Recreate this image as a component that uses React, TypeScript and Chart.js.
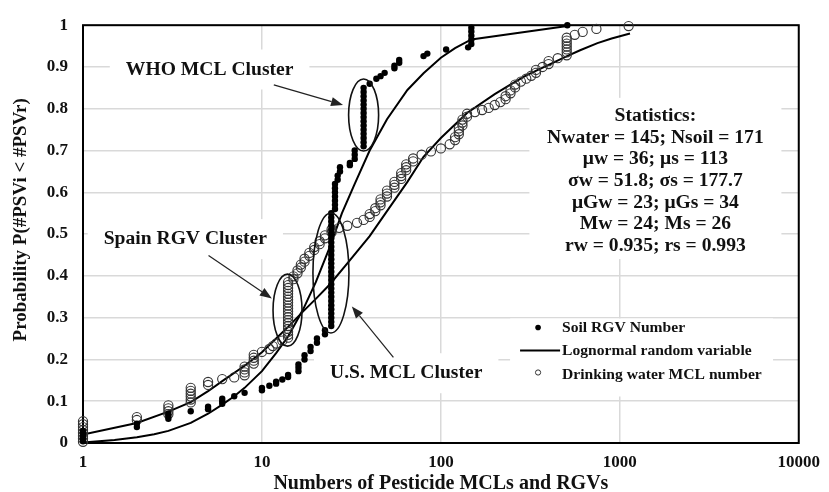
import React, { useEffect, useRef } from "react";
import { Chart, registerables } from "chart.js";

Chart.register(...registerables);

const FONT = '"Liberation Serif", "Times New Roman", serif';
const INK = "#111";

// ---- Soil RGV Number (filled dots) ----
const soilX = [
  1, 1, 1, 1, 1, 1,
  2, 2,
  3, 3, 3,
  4,
  5, 5,
  6, 6, 6,
  7, 8, 10, 10, 11, 12, 12, 13, 14, 14,
  16, 16, 16, 17.3, 17.3, 18.7, 18.7, 20.3, 20.3, 22.5, 22.5,
  24.4, 24.4, 24.4, 24.4, 24.4, 24.4, 24.4, 24.4, 24.4, 24.4,
  24.4, 24.4, 24.4, 24.4, 24.4, 24.4, 24.4, 24.4, 24.4, 24.4,
  24.4, 24.4, 24.4, 24.4, 24.4, 24.4, 24.4, 24.4,
  25.6, 25.6, 25.6, 25.6, 25.6, 25.6, 25.6,
  26.5, 26.5, 27.3, 27.3, 31, 31, 33, 33, 33,
  37, 37, 37, 37, 37, 37, 37, 37, 37, 37, 37, 37, 37, 37, 37,
  40, 43.6, 46, 48.5, 55, 55, 58.5, 58.5, 80, 84, 107, 142,
  148, 148, 148, 148, 148,
  509,
];
const soilP = [
  0.004, 0.009, 0.014, 0.019, 0.024, 0.029,
  0.038, 0.046,
  0.058, 0.064, 0.07,
  0.076,
  0.081, 0.087,
  0.094, 0.1, 0.106,
  0.112, 0.12, 0.126, 0.132, 0.137, 0.142, 0.147, 0.152, 0.158, 0.163,
  0.172, 0.18, 0.188, 0.2, 0.21, 0.22, 0.23, 0.24, 0.25, 0.26, 0.27,
  0.28, 0.29, 0.3, 0.31, 0.32, 0.33, 0.34, 0.35, 0.36, 0.37,
  0.38, 0.39, 0.4, 0.41, 0.42, 0.43, 0.44, 0.45, 0.46, 0.47,
  0.48, 0.49, 0.5, 0.51, 0.52, 0.53, 0.54, 0.55,
  0.56, 0.57, 0.58, 0.59, 0.6, 0.61, 0.62,
  0.63, 0.64, 0.65, 0.66, 0.665, 0.67, 0.68, 0.69, 0.7,
  0.71, 0.72, 0.73, 0.74, 0.75, 0.76, 0.77, 0.78, 0.79, 0.8, 0.81, 0.82, 0.83, 0.84, 0.85,
  0.86, 0.872, 0.878, 0.886, 0.897, 0.903, 0.91, 0.917, 0.926, 0.932, 0.942, 0.947,
  0.955, 0.965, 0.975, 0.985, 0.994,
  1.0,
];

// ---- Drinking water MCL number (open circles) ----
const waterX = [
  1, 1, 1, 1, 1, 1, 1, 1,
  2, 2,
  3, 3, 3, 3,
  4, 4, 4, 4, 4, 4,
  5, 5, 6, 7,
  8, 8, 8, 8,
  9, 9, 9, 9,
  10, 11, 11.5, 12, 13,
  14, 14, 14, 14, 14, 14, 14, 14, 14, 14,
  14, 14, 14, 14, 14, 14, 14, 14, 14, 14,
  15, 15, 15.8, 15.8, 16.5, 16.5, 17.3, 17.3, 18.4, 18.4,
  19.6, 19.6, 21, 21, 22.5, 22.5, 24.5, 24.5, 27, 30, 34, 37,
  40, 40, 43, 43, 46, 46, 46, 50, 50, 50, 55, 55, 55,
  60, 60, 60, 64, 64, 64, 70, 70, 78, 88, 100, 112,
  120, 120, 126, 126, 126, 132, 132, 132, 140, 140,
  155, 170, 185, 200, 215, 230, 230, 245, 245, 260, 260,
  280, 300, 320, 340, 340, 370, 400, 400, 450,
  505, 505, 505, 505, 505, 505, 505,
  560, 620, 740, 1120,
];
const waterP = [
  0.003, 0.01, 0.017, 0.024, 0.031, 0.038, 0.045, 0.052,
  0.055, 0.062,
  0.069, 0.076, 0.083, 0.09,
  0.097, 0.104, 0.111, 0.118, 0.125, 0.132,
  0.139, 0.146, 0.153, 0.157,
  0.162, 0.169, 0.176, 0.183,
  0.19, 0.197, 0.204, 0.211,
  0.218, 0.225, 0.232, 0.238, 0.245,
  0.252, 0.259, 0.266, 0.273, 0.28, 0.287, 0.294, 0.301, 0.308, 0.315,
  0.322, 0.329, 0.336, 0.343, 0.35, 0.357, 0.364, 0.371, 0.378, 0.385,
  0.392, 0.399, 0.406, 0.413, 0.42, 0.427, 0.434, 0.441, 0.448, 0.455,
  0.462, 0.469, 0.476, 0.483, 0.49, 0.497, 0.504, 0.511, 0.515, 0.52, 0.527, 0.534,
  0.541, 0.548, 0.555, 0.562, 0.569, 0.576, 0.583, 0.59, 0.597, 0.604, 0.611, 0.618, 0.625,
  0.632, 0.639, 0.646, 0.653, 0.66, 0.667, 0.674, 0.681, 0.69, 0.698, 0.705, 0.715,
  0.725, 0.732, 0.739, 0.746, 0.753, 0.76, 0.767, 0.774, 0.781, 0.788,
  0.792, 0.797, 0.802, 0.809, 0.816, 0.823, 0.83, 0.837, 0.844, 0.851, 0.858,
  0.865, 0.872, 0.879, 0.886, 0.893, 0.9, 0.907, 0.914, 0.921,
  0.928, 0.935, 0.942, 0.949, 0.956, 0.963, 0.97,
  0.977, 0.984, 0.991, 0.998,
];

// ---- Lognormal random variable curves ----
const soilCurveX = [1, 1.5, 2, 2.5, 3, 4, 5, 6, 7, 8, 10, 12, 14, 17, 20, 24, 28, 33, 40, 50, 65, 80, 100, 120, 148, 509];
const soilCurveP = [0.001, 0.007, 0.014, 0.021, 0.029, 0.048, 0.07, 0.092, 0.112, 0.132, 0.172, 0.215, 0.255, 0.32, 0.385, 0.47, 0.55, 0.62, 0.7, 0.775, 0.845, 0.885, 0.922, 0.945, 0.966, 0.998];
const waterCurveX = [1, 2, 3, 4, 5, 6, 8, 10, 12, 14, 17, 20, 24, 30, 40, 50, 65, 80, 100, 140, 200, 250, 300, 400, 500, 600, 750, 900, 1140];
const waterCurveP = [0.02, 0.048, 0.075, 0.098, 0.124, 0.148, 0.185, 0.217, 0.25, 0.278, 0.315, 0.345, 0.38, 0.43, 0.495, 0.555, 0.625, 0.685, 0.73, 0.79, 0.835, 0.86, 0.88, 0.905, 0.925, 0.94, 0.957, 0.968, 0.98];

// ---- Axes ----
const xTickValues = [1, 10, 100, 1000, 10000];
const yTickValues = [0, 0.1, 0.2, 0.3, 0.4, 0.5, 0.6, 0.7, 0.8, 0.9, 1];
const xTitle = "Numbers of Pesticide MCLs and RGVs";
const yTitle = "      Probability P(#PSVi < #PSVr)";

// ---- Text ----
const legendLabels = ["Soil RGV Number", "Lognormal random variable", "Drinking water MCL number"];
const statsLines = [
  "Statistics:",
  "Nwater = 145; Nsoil = 171",
  "\u03bcw = 36; \u03bcs = 113",
  "\u03c3w = 51.8; \u03c3s = 177.7",
  "\u03bcGw = 23; \u03bcGs = 34",
  "Mw = 24; Ms = 26",
  "rw = 0.935; rs = 0.993",
];
// annotation anchors in data coordinates
const clusterLabels = [
  { text: "WHO MCL Cluster", x: 5.1, p: 0.894 },
  { text: "Spain RGV Cluster", x: 3.73, p: 0.488 },
  { text: "U.S. MCL Cluster", x: 64, p: 0.167 },
];
const clusterEllipses = [
  { x: 37, p: 0.785, rx: 15, ry: 36 },
  { x: 13.9, p: 0.318, rx: 14.5, ry: 36 },
  { x: 24.3, p: 0.407, rx: 18, ry: 60 },
];
const clusterArrows = [
  { x1: 11.65, p1: 0.857, x2: 28.4, p2: 0.809 },
  { x1: 5.03, p1: 0.449, x2: 11.36, p2: 0.346 },
  { x1: 54.3, p1: 0.205, x2: 31.8, p2: 0.327 },
];
const statsAnchor = { x: 1581, p: 0.783 };
const legendAnchor = { x: 243.6, p: 0.298 };

const toPts = (xs: number[], ps: number[]) => xs.map((x, i) => ({ x, y: ps[i] }));

const overlayPlugin = {
  id: "overlay",
  beforeDatasetsDraw(chart: any) {
    const { ctx, chartArea: a } = chart;
    const xs = chart.scales.x;
    const ys = chart.scales.y;
    ctx.save();
    ctx.textAlign = "center";
    ctx.textBaseline = "middle";

    // cluster labels with white background
    ctx.font = `bold 19.6px ${FONT}`;
    for (const lb of clusterLabels) {
      const px = xs.getPixelForValue(lb.x);
      const py = ys.getPixelForValue(lb.p);
      const w = ctx.measureText(lb.text).width + 32;
      ctx.fillStyle = "#fff";
      ctx.fillRect(px - w / 2, py - 20, w, 40);
      ctx.fillStyle = INK;
      ctx.fillText(lb.text, px, py);
    }

    // statistics block
    const sx = xs.getPixelForValue(statsAnchor.x);
    const sy = ys.getPixelForValue(statsAnchor.p);
    const lh = 21.7;
    ctx.fillStyle = "#fff";
    ctx.fillRect(sx - 126, sy - 18, 252, (statsLines.length - 1) * lh + 31);
    ctx.fillStyle = INK;
    statsLines.forEach((t, i) => ctx.fillText(t, sx, sy + i * lh));

    // legend
    const lx = xs.getPixelForValue(legendAnchor.x);
    const ly = ys.getPixelForValue(legendAnchor.p);
    ctx.fillStyle = "#fff";
    ctx.fillRect(lx, ly, 263, 78);
    ctx.font = `bold 15.6px ${FONT}`;
    ctx.textAlign = "left";
    const rows = [ly + 9, ly + 32, ly + 56];
    const textX = lx + 52;
    const markX = lx + 28;
    ctx.fillStyle = "#000";
    ctx.beginPath();
    ctx.arc(markX, rows[0], 2.8, 0, Math.PI * 2);
    ctx.fill();
    ctx.strokeStyle = "#000";
    ctx.lineWidth = 2;
    ctx.beginPath();
    ctx.moveTo(lx + 10, rows[1]);
    ctx.lineTo(lx + 50, rows[1]);
    ctx.stroke();
    ctx.lineWidth = 1;
    ctx.strokeStyle = "#333";
    ctx.beginPath();
    ctx.arc(markX, rows[2] - 2, 2.6, 0, Math.PI * 2);
    ctx.stroke();
    ctx.fillStyle = INK;
    legendLabels.forEach((t, i) => ctx.fillText(t, textX, rows[i]));

    // frame
    ctx.strokeStyle = "#000";
    ctx.lineWidth = 2;
    ctx.strokeRect(a.left, a.top, a.right - a.left, a.bottom - a.top);
    ctx.restore();
  },
  afterDatasetsDraw(chart: any) {
    const { ctx } = chart;
    const xs = chart.scales.x;
    const ys = chart.scales.y;
    ctx.save();
    ctx.strokeStyle = "#111";
    ctx.lineWidth = 1.6;
    for (const e of clusterEllipses) {
      ctx.beginPath();
      ctx.ellipse(xs.getPixelForValue(e.x), ys.getPixelForValue(e.p), e.rx, e.ry, 0, 0, Math.PI * 2);
      ctx.stroke();
    }
    ctx.strokeStyle = "#222";
    ctx.fillStyle = "#222";
    ctx.lineWidth = 1.2;
    for (const ar of clusterArrows) {
      const x1 = xs.getPixelForValue(ar.x1);
      const y1 = ys.getPixelForValue(ar.p1);
      const x2 = xs.getPixelForValue(ar.x2);
      const y2 = ys.getPixelForValue(ar.p2);
      const ang = Math.atan2(y2 - y1, x2 - x1);
      const hl = 12;
      const hw = 4.5;
      const bx = x2 - hl * Math.cos(ang);
      const by = y2 - hl * Math.sin(ang);
      ctx.beginPath();
      ctx.moveTo(x1, y1);
      ctx.lineTo(bx, by);
      ctx.stroke();
      ctx.beginPath();
      ctx.moveTo(x2, y2);
      ctx.lineTo(bx + hw * Math.sin(ang), by - hw * Math.cos(ang));
      ctx.lineTo(bx - hw * Math.sin(ang), by + hw * Math.cos(ang));
      ctx.closePath();
      ctx.fill();
    }
    ctx.restore();
  },
};

export default function App() {
  const canvasRef = useRef<HTMLCanvasElement | null>(null);

  useEffect(() => {
    const canvas = canvasRef.current;
    if (!canvas) return;
    const tickFont = { family: FONT, size: 17, weight: "bold" as const };
    const chart = new Chart(canvas, {
      type: "scatter",
      data: {
        datasets: [
          {
            label: legendLabels[0],
            data: toPts(soilX, soilP),
            pointRadius: 3.2,
            pointBackgroundColor: "#000",
            pointBorderWidth: 0,
            showLine: false,
            clip: false,
            order: 0,
          },
          {
            label: legendLabels[2],
            data: toPts(waterX, waterP),
            pointRadius: 4.6,
            pointBackgroundColor: "rgba(0,0,0,0)",
            pointBorderColor: "#333",
            pointBorderWidth: 1.1,
            showLine: false,
            clip: false,
            order: 1,
          },
          {
            label: legendLabels[1],
            data: toPts(soilCurveX, soilCurveP),
            showLine: true,
            borderColor: "#000",
            borderWidth: 2,
            pointRadius: 0,
            tension: 0,
            order: 2,
          },
          {
            label: legendLabels[1],
            data: toPts(waterCurveX, waterCurveP),
            showLine: true,
            borderColor: "#000",
            borderWidth: 2,
            pointRadius: 0,
            tension: 0,
            order: 2,
          },
        ],
      },
      options: {
        responsive: false,
        animation: false,
        events: [],
        layout: { padding: { left: 0, right: 22, top: 24, bottom: 0 } },
        plugins: { legend: { display: false }, tooltip: { enabled: false }, title: { display: false } },
        scales: {
          x: {
            type: "logarithmic",
            min: 1,
            max: 10000,
            afterBuildTicks: (s: any) => {
              s.ticks = xTickValues.map((v) => ({ value: v }));
            },
            afterFit: (s: any) => {
              s.height = 49;
            },
            ticks: {
              callback: (v: any) => String(v),
              font: tickFont,
              color: INK,
              padding: 9,
              maxRotation: 0,
              autoSkip: false,
            },
            grid: { color: "#d9d9d9", lineWidth: 1.5, drawTicks: false },
            border: { display: false },
            title: {
              display: true,
              text: xTitle,
              color: INK,
              font: { family: FONT, size: 20, weight: "bold", lineHeight: 0.8 },
              padding: 0,
            },
          },
          y: {
            type: "linear",
            min: 0,
            max: 1,
            afterBuildTicks: (s: any) => {
              s.ticks = yTickValues.map((v) => ({ value: v }));
            },
            afterFit: (s: any) => {
              s.width = 83;
            },
            ticks: {
              callback: (v: any) => String(Math.round(Number(v) * 10) / 10),
              font: tickFont,
              color: INK,
              padding: 15,
            },
            grid: { color: "#d9d9d9", lineWidth: 1.5, drawTicks: false },
            border: { display: false },
            title: {
              display: true,
              text: yTitle,
              color: INK,
              font: { family: FONT, size: 19, weight: "bold" },
              padding: { top: 10, bottom: 0 },
            },
          },
        },
      },
      plugins: [overlayPlugin],
    } as any);
    return () => chart.destroy();
  }, []);

  return (
    <div style={{ position: "absolute", left: 0, top: 0, width: 829, height: 492, background: "#fff" }}>
      <canvas ref={canvasRef} width={829} height={492} style={{ display: "block" }} />
    </div>
  );
}
